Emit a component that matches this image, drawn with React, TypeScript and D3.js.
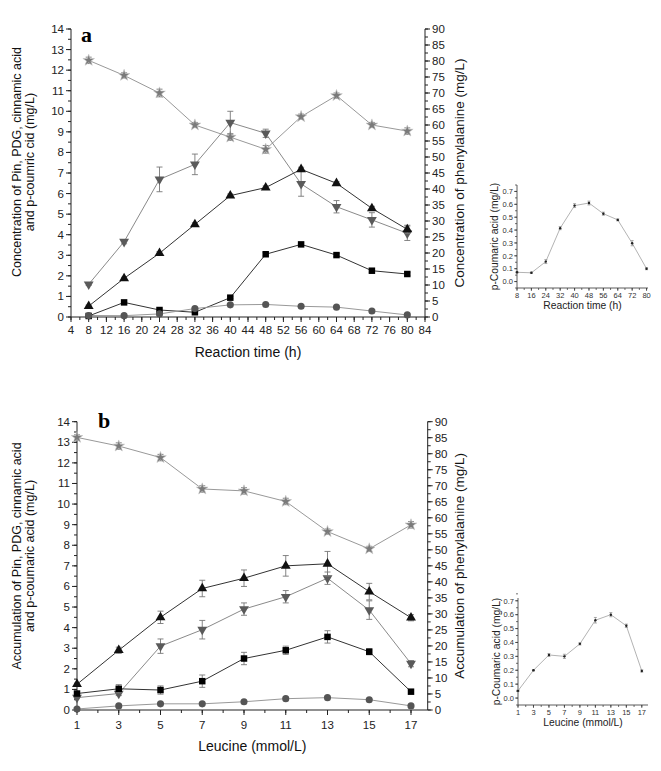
import React from "react";
import * as d3 from "d3";

// ---------- Panel a data ----------
const timeH = [8, 16, 24, 32, 40, 48, 56, 64, 72, 80];
const aSquare = [0.05, 0.71, 0.34, 0.23, 0.94, 3.05, 3.53, 3.01, 2.25, 2.09];
const aSquareErr = [0.03, 0.05, 0.05, 0.05, 0.05, 0.08, 0.08, 0.08, 0.08, 0.08];
const aUp = [0.53, 1.88, 3.1, 4.5, 5.9, 6.29, 7.18, 6.5, 5.28, 4.26];
const aUpErr = [0.05, 0.05, 0.08, 0.08, 0.08, 0.08, 0.1, 0.08, 0.1, 0.2];
const aDown = [1.59, 3.66, 6.69, 7.42, 9.45, 8.93, 6.47, 5.36, 4.72, 4.07];
const aDownErr = [0.05, 0.1, 0.6, 0.5, 0.55, 0.2, 0.6, 0.3, 0.35, 0.35];
const aStarPhe = [80.2, 75.5, 70.0, 60.0, 56.2, 52.4, 62.6, 69.2, 60.0, 58.1];
const aStarErr = [1, 0.8, 1.2, 0.8, 1, 1.2, 0.8, 0.8, 0.8, 1];
const aCircle = [0.07, 0.065, 0.15, 0.41, 0.59, 0.61, 0.52, 0.48, 0.29, 0.1];

// inset a
const insetACoumaric = [0.072, 0.068, 0.155, 0.415, 0.59, 0.61, 0.527, 0.479, 0.298, 0.1];
const insetAErr = [0.005, 0.005, 0.015, 0.012, 0.015, 0.015, 0.012, 0.008, 0.02, 0.008];

// ---------- Panel b data ----------
const leucine = [1, 3, 5, 7, 9, 11, 13, 15, 17];
const bSquare = [0.8, 1.03, 0.97, 1.4, 2.5, 2.9, 3.55, 2.83, 0.89];
const bSquareErr = [0.05, 0.2, 0.2, 0.3, 0.3, 0.2, 0.3, 0.15, 0.1];
const bUp = [1.25, 2.9, 4.5, 5.9, 6.4, 7.0, 7.1, 5.75, 4.48];
const bUpErr = [0.05, 0.15, 0.3, 0.4, 0.4, 0.5, 0.6, 0.4, 0.15];
const bDown = [0.6, 0.8, 3.1, 3.9, 4.9, 5.5, 6.4, 4.85, 2.25];
const bDownErr = [0.05, 0.1, 0.35, 0.45, 0.3, 0.3, 0.3, 0.45, 0.15];
const bStarPhe = [85.1, 82.4, 78.8, 69.0, 68.4, 65.1, 55.7, 50.3, 57.8];
const bStarErr = [0.8, 1, 1, 1, 1, 1, 0.8, 0.8, 1];
const bCircle = [0.05, 0.2, 0.3, 0.3, 0.4, 0.55, 0.6, 0.5, 0.2];

// inset b
const insetBCoumaric = [0.052, 0.2, 0.31, 0.3, 0.39, 0.56, 0.6, 0.52, 0.195];
const insetBErr = [0.005, 0.005, 0.01, 0.015, 0.008, 0.02, 0.015, 0.012, 0.008];

// ---------- tick labels ----------
const aXTicks = d3.range(4, 85, 4);
const aXMinor = d3.range(4, 85, 2);
const leftTicks = d3.range(0, 15, 1);
const leftMinor = d3.range(0, 14.01, 0.5);
const rightTicks = d3.range(0, 91, 5);
const rightMinor = d3.range(0, 90.01, 2.5);
const bXTicks = [1, 3, 5, 7, 9, 11, 13, 15, 17];
const bXMinor = d3.range(1, 18, 1);
const insetYTicks = [0, 0.1, 0.2, 0.3, 0.4, 0.5, 0.6, 0.7];
const insetYMinor = d3.range(-0.05, 0.751, 0.05);
const insetAXTicks = [8, 16, 24, 32, 40, 48, 56, 64, 72, 80];
const insetAXMinor = d3.range(8, 81, 4);

const FONT = "Arial, 'Liberation Sans', sans-serif";

type Series = {
  x: number[];
  y: number[];
  err: number[];
  axis: "L" | "R";
  symbol: d3.SymbolType;
  rotate?: number;
  size: number;
  fill: string;
  stroke?: string;
  line: string;
};

function Marker({ s, cx, cy }: { s: Series; cx: number; cy: number }) {
  const p = d3.symbol().type(s.symbol).size(s.size)() || "";
  return (
    <path
      d={p}
      transform={`translate(${cx},${cy}) rotate(${s.rotate || 0})`}
      fill={s.fill}
      stroke={s.stroke || "none"}
      strokeWidth={0.6}
    />
  );
}

function Panel(props: {
  left: number; right: number; top: number; bottom: number;
  xDomain: [number, number];
  xTicks: number[]; xMinor: number[];
  series: Series[];
  letter: string; letterX: number; letterY: number;
  xTitle: string; xTitleY: number; xLabelY: number;
  leftTitle: string[]; rightTitle: string; titleCenterY: number;
  leftTitleX: number[]; rightTitleX: number;
}) {
  const { left, right, top, bottom } = props;
  const x = d3.scaleLinear().domain(props.xDomain).range([left, right]);
  const yL = d3.scaleLinear().domain([0, 14]).range([bottom, top]);
  const yR = d3.scaleLinear().domain([0, 90]).range([bottom, top]);
  const axisColor = "#222";
  return (
    <g fontFamily={FONT}>
      <line x1={left} x2={left} y1={top} y2={bottom} stroke={axisColor} strokeWidth={1} />
      <line x1={right} x2={right} y1={top} y2={bottom} stroke={axisColor} strokeWidth={1} />
      <line x1={left} x2={right} y1={bottom} y2={bottom} stroke={axisColor} strokeWidth={1} />
      {props.xMinor.map((t, i) => (
        <line key={"xm" + i} x1={x(t)} x2={x(t)} y1={bottom} y2={bottom + 3} stroke={axisColor} />
      ))}
      {props.xTicks.map((t, i) => (
        <g key={"xt" + i}>
          <line x1={x(t)} x2={x(t)} y1={bottom} y2={bottom + 5} stroke={axisColor} />
          <text x={x(t)} y={props.xLabelY} fontSize={11.5} textAnchor="middle" fill="#222">{t}</text>
        </g>
      ))}
      {leftMinor.map((t, i) => (
        <line key={"lm" + i} x1={left - 3} x2={left} y1={yL(t)} y2={yL(t)} stroke={axisColor} />
      ))}
      {leftTicks.map((t, i) => (
        <g key={"lt" + i}>
          <line x1={left - 5} x2={left} y1={yL(t)} y2={yL(t)} stroke={axisColor} />
          <text x={left - 7} y={yL(t) + 4} fontSize={11.5} textAnchor="end" fill="#222">{t}</text>
        </g>
      ))}
      {rightMinor.map((t, i) => (
        <line key={"rm" + i} x1={right} x2={right + 3} y1={yR(t)} y2={yR(t)} stroke={axisColor} />
      ))}
      {rightTicks.map((t, i) => (
        <g key={"rt" + i}>
          <line x1={right} x2={right + 5} y1={yR(t)} y2={yR(t)} stroke={axisColor} />
          <text x={right + 7} y={yR(t) + 4} fontSize={11.5} textAnchor="start" fill="#222">{t}</text>
        </g>
      ))}
      {props.series.map((s, si) => {
        const ys = s.axis === "L" ? yL : yR;
        const line = d3.line<number>().x((_, i) => x(s.x[i])).y((v) => ys(v));
        return (
          <g key={"s" + si}>
            <path d={line(s.y) || ""} fill="none" stroke={s.line} strokeWidth={1} />
            {s.y.map((v, i) => {
              const e = s.err[i] || 0;
              if (e <= 0) return null;
              const cx = x(s.x[i]);
              return (
                <g key={"e" + i} stroke="#777" strokeWidth={0.9}>
                  <line x1={cx} x2={cx} y1={ys(v - e)} y2={ys(v + e)} />
                  <line x1={cx - 3} x2={cx + 3} y1={ys(v - e)} y2={ys(v - e)} />
                  <line x1={cx - 3} x2={cx + 3} y1={ys(v + e)} y2={ys(v + e)} />
                </g>
              );
            })}
            {s.y.map((v, i) => (
              <Marker key={"m" + i} s={s} cx={x(s.x[i])} cy={ys(v)} />
            ))}
          </g>
        );
      })}
      <text x={props.letterX} y={props.letterY} fontFamily="'Liberation Serif', 'DejaVu Serif', serif" fontWeight="bold" fontSize={22}>{props.letter}</text>
      <text x={(left + right) / 2} y={props.xTitleY} fontSize={14} textAnchor="middle" fill="#111">{props.xTitle}</text>
      {props.leftTitle.map((t, i) => (
        <text key={"lt" + i} transform={`translate(${props.leftTitleX[i]},${props.titleCenterY}) rotate(-90)`} fontSize={12.5} textAnchor="middle" fill="#111">{t}</text>
      ))}
      <text transform={`translate(${props.rightTitleX},${(top + bottom) / 2}) rotate(-90)`} fontSize={13.5} textAnchor="middle" fill="#111">{props.rightTitle}</text>
    </g>
  );
}

function Inset(props: {
  left: number; right: number; top: number; bottom: number;
  xDomain: [number, number]; yDomain: [number, number];
  xTicks: number[]; xMinor: number[];
  xs: number[]; ys: number[]; err: number[];
  xTitle: string; yTitle: string; yTitleX: number;
}) {
  const { left, right, top, bottom } = props;
  const x = d3.scaleLinear().domain(props.xDomain).range([left, right]);
  const y = d3.scaleLinear().domain(props.yDomain).range([bottom, top]);
  const line = d3.line<number>().x((_, i) => x(props.xs[i])).y((v) => y(v));
  const c = "#333";
  return (
    <g fontFamily={FONT}>
      <line x1={left} x2={left} y1={top} y2={bottom} stroke={c} strokeWidth={0.8} />
      <line x1={left} x2={right} y1={bottom} y2={bottom} stroke={c} strokeWidth={0.8} />
      {insetYMinor.map((t, i) => (
        <line key={"ym" + i} x1={left - 2} x2={left} y1={y(t)} y2={y(t)} stroke={c} strokeWidth={0.7} />
      ))}
      {insetYTicks.map((t, i) => (
        <g key={"yt" + i}>
          <line x1={left - 3} x2={left} y1={y(t)} y2={y(t)} stroke={c} strokeWidth={0.7} />
          <text x={left - 4} y={y(t) + 2.8} fontSize={7.5} textAnchor="end" fill="#333">{t.toFixed(1)}</text>
        </g>
      ))}
      {props.xMinor.map((t, i) => (
        <line key={"xm" + i} x1={x(t)} x2={x(t)} y1={bottom} y2={bottom + 2} stroke={c} strokeWidth={0.7} />
      ))}
      {props.xTicks.map((t, i) => (
        <g key={"xt" + i}>
          <line x1={x(t)} x2={x(t)} y1={bottom} y2={bottom + 3} stroke={c} strokeWidth={0.7} />
          <text x={x(t)} y={bottom + 10} fontSize={7.5} textAnchor="middle" fill="#333">{t}</text>
        </g>
      ))}
      <path d={line(props.ys) || ""} fill="none" stroke="#aaa" strokeWidth={0.9} />
      {props.ys.map((v, i) => {
        const cx = x(props.xs[i]);
        const e = props.err[i];
        return (
          <g key={"p" + i}>
            <g stroke="#888" strokeWidth={0.7}>
              <line x1={cx} x2={cx} y1={y(v - e)} y2={y(v + e)} />
              <line x1={cx - 1.5} x2={cx + 1.5} y1={y(v - e)} y2={y(v - e)} />
              <line x1={cx - 1.5} x2={cx + 1.5} y1={y(v + e)} y2={y(v + e)} />
            </g>
            <circle cx={cx} cy={y(v)} r={1.2} fill="#222" />
          </g>
        );
      })}
      <text x={(left + right) / 2} y={bottom + 21} fontSize={10.3} textAnchor="middle" fill="#222">{props.xTitle}</text>
      <text transform={`translate(${props.yTitleX},${(top + bottom) / 2}) rotate(-90)`} fontSize={10.3} textAnchor="middle" fill="#222">{props.yTitle}</text>
    </g>
  );
}

export default function App() {
  const seriesA: Series[] = [
    { x: timeH, y: aStarPhe, err: aStarErr, axis: "R", symbol: d3.symbolStar, size: 42, fill: "#7a7a7a", stroke: "#c8c8c8", line: "#999" },
    { x: timeH, y: aDown, err: aDownErr, axis: "L", symbol: d3.symbolTriangle, rotate: 180, size: 42, fill: "#5a5a5a", line: "#8a8a8a" },
    { x: timeH, y: aUp, err: aUpErr, axis: "L", symbol: d3.symbolTriangle, size: 42, fill: "#111", line: "#333" },
    { x: timeH, y: aSquare, err: aSquareErr, axis: "L", symbol: d3.symbolSquare, size: 42, fill: "#000", line: "#333" },
    { x: timeH, y: aCircle, err: aCircle.map(() => 0), axis: "L", symbol: d3.symbolCircle, size: 40, fill: "#555", line: "#999" },
  ];
  const seriesB: Series[] = [
    { x: leucine, y: bStarPhe, err: bStarErr, axis: "R", symbol: d3.symbolStar, size: 42, fill: "#7a7a7a", stroke: "#c8c8c8", line: "#999" },
    { x: leucine, y: bDown, err: bDownErr, axis: "L", symbol: d3.symbolTriangle, rotate: 180, size: 42, fill: "#5a5a5a", line: "#8a8a8a" },
    { x: leucine, y: bUp, err: bUpErr, axis: "L", symbol: d3.symbolTriangle, size: 42, fill: "#111", line: "#333" },
    { x: leucine, y: bSquare, err: bSquareErr, axis: "L", symbol: d3.symbolSquare, size: 42, fill: "#000", line: "#333" },
    { x: leucine, y: bCircle, err: bCircle.map(() => 0), axis: "L", symbol: d3.symbolCircle, size: 40, fill: "#555", line: "#999" },
  ];
  return (
    <svg width={645} height={755} style={{ display: "block", background: "#fff" }}>
      <g transform="translate(-8,-8)">
        <rect x={0} y={0} width={661} height={771} fill="#fff" />
        <Panel
          left={71} right={425} top={29} bottom={317}
          xDomain={[4, 84]} xTicks={aXTicks} xMinor={aXMinor}
          series={seriesA}
          letter="a" letterX={81} letterY={42}
          xTitle="Reaction time (h)" xTitleY={357} xLabelY={334}
          leftTitle={["Concentration of Pin, PDG, cinnamic acid", "and p-coumric cid (mg/L)"]}
          leftTitleX={[21, 34]} rightTitle="Concentration of phenylalanine (mg/L)" rightTitleX={464}
          titleCenterY={162}
        />
        <Inset
          left={517} right={648} top={185} bottom={288}
          xDomain={[8, 80.8]} yDomain={[-0.05, 0.75]}
          xTicks={insetAXTicks} xMinor={insetAXMinor}
          xs={timeH} ys={insetACoumaric} err={insetAErr}
          xTitle="Reaction time (h)" yTitle="p-Coumaric acid (mg/L)" yTitleX={498}
        />
        <Panel
          left={77} right={427.7} top={421.7} bottom={710}
          xDomain={[1, 17.8]} xTicks={bXTicks} xMinor={bXMinor}
          series={seriesB}
          letter="b" letterX={98} letterY={428}
          xTitle="Leucine (mmol/L)" xTitleY={751} xLabelY={729}
          leftTitle={["Accumulation of Pin, PDG, cinnamic acid", "and p-coumaric acid (mg/L)"]}
          leftTitleX={[21, 34]} rightTitle="Accumulation of phenylalanine (mg/L)" rightTitleX={464}
          titleCenterY={556}
        />
        <Inset
          left={518} right={648} top={598} bottom={705}
          xDomain={[1, 17.8]} yDomain={[-0.05, 0.72]}
          xTicks={bXTicks} xMinor={bXMinor}
          xs={leucine} ys={insetBCoumaric} err={insetBErr}
          xTitle="Leucine (mmol/L)" yTitle="p-Coumaric acid  (mg/L)" yTitleX={500}
        />
      </g>
    </svg>
  );
}
